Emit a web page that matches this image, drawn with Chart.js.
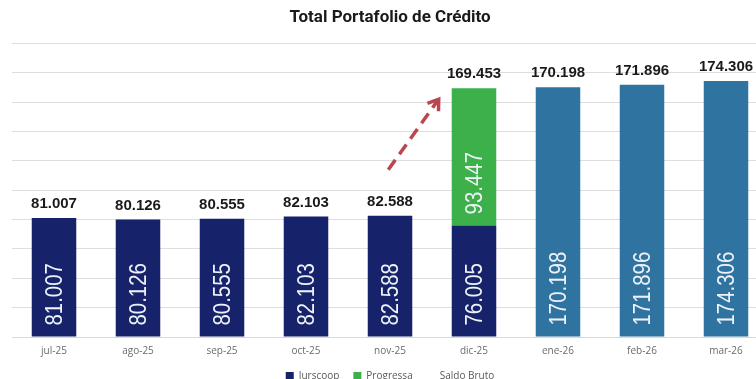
<!DOCTYPE html>
<html>
<head>
<meta charset="utf-8">
<script src="https://cdn.jsdelivr.net/npm/chart.js@4.4.1/dist/chart.umd.min.js"></script>
<style>
  html, body { margin: 0; padding: 0; background: #fff; overflow: hidden; }
  #wrap { position: absolute; left: 0; top: 0; width: 780px; height: 391px; }
</style>
</head>
<body>
<div id="wrap"><canvas id="portafolio"></canvas></div>
<script>
document.addEventListener('DOMContentLoaded', () => {
    // Saldos mensuales (millones)
    const months = ['jul-25', 'ago-25', 'sep-25', 'oct-25', 'nov-25', 'dic-25', 'ene-26', 'feb-26', 'mar-26'];
    const jurscoop = [81.007, 80.126, 80.555, 82.103, 82.588, 76.005, null, null, null];
    const progressa = [null, null, null, null, null, 93.447, null, null, null];
    const consolidado = [null, null, null, null, null, null, 170.198, 171.896, 174.306];
    const saldoBruto = [81.007, 80.126, 80.555, 82.103, 82.588, 169.453, 170.198, 171.896, 174.306];

    // Flecha de crecimiento nov -> dic, en unidades de datos (indice de categoria, valor)
    const arrowFrom = [3.98, 114];
    const arrowTo = [4.58, 162];

    const fmt = v => v.toFixed(3);

    const labelsPlugin = {
        id: 'barLabels',
        afterDatasetsDraw(chart) {
            const ctx = chart.ctx;
            // valores dentro de cada segmento, rotados
            chart.data.datasets.forEach((ds, i) => {
                if (ds.type === 'line') return;
                const meta = chart.getDatasetMeta(i);
                meta.data.forEach((bar, j) => {
                    const v = ds.data[j];
                    if (v == null) return;
                    ctx.save();
                    ctx.translate(bar.x, bar.base - 11);
                    ctx.rotate(-Math.PI / 2);
                    ctx.scale(0.85, 1);
                    ctx.font = '24px "Liberation Sans", Arial, sans-serif';
                    ctx.fillStyle = '#eef2f8';
                    ctx.textAlign = 'left';
                    ctx.textBaseline = 'middle';
                    ctx.fillText(fmt(v), 0, 1);
                    ctx.restore();
                });
            });
            // totales encima de las barras
            chart.data.datasets.forEach((ds, i) => {
                if (ds.type !== 'line') return;
                const meta = chart.getDatasetMeta(i);
                meta.data.forEach((pt, j) => {
                    ctx.save();
                    ctx.font = 'bold 15px "Liberation Sans", Arial, sans-serif';
                    ctx.fillStyle = '#1a1a1a';
                    ctx.textAlign = 'center';
                    ctx.textBaseline = 'middle';
                    ctx.fillText(fmt(ds.data[j]), pt.x, pt.y - 14);
                    ctx.restore();
                });
            });
            // flecha discontinua
            const xs = chart.scales.x, ys = chart.scales.y;
            const x1 = xs.getPixelForValue(arrowFrom[0]), y1 = ys.getPixelForValue(arrowFrom[1]);
            const x2 = xs.getPixelForValue(arrowTo[0]), y2 = ys.getPixelForValue(arrowTo[1]);
            const ang = Math.atan2(y2 - y1, x2 - x1);
            ctx.save();
            ctx.strokeStyle = '#bb4650';
            ctx.lineWidth = 3.5;
            ctx.setLineDash([12, 7]);
            ctx.beginPath();
            ctx.moveTo(x1, y1);
            ctx.lineTo(x2 - 3 * Math.cos(ang), y2 - 3 * Math.sin(ang));
            ctx.stroke();
            ctx.setLineDash([]);
            ctx.lineJoin = 'miter';
            ctx.beginPath();
            ctx.moveTo(x2 - 12 * Math.cos(ang - 0.6), y2 - 12 * Math.sin(ang - 0.6));
            ctx.lineTo(x2, y2);
            ctx.lineTo(x2 - 12 * Math.cos(ang + 0.6), y2 - 12 * Math.sin(ang + 0.6));
            ctx.stroke();
            ctx.restore();
        }
    };

    const barOpts = { stack: 'barras', barPercentage: 0.53, categoryPercentage: 1.0, borderWidth: 0 };

    new Chart(document.getElementById('portafolio'), {
        type: 'bar',
        data: {
            labels: months,
            datasets: [
                { label: 'Jurscoop', data: jurscoop, backgroundColor: '#16226a', ...barOpts },
                { label: 'Progressa', data: progressa, backgroundColor: '#3cb14a', ...barOpts },
                { label: 'Consolidado', data: consolidado, backgroundColor: '#2f73a0', ...barOpts },
                {
                    type: 'line', label: 'Saldo Bruto', data: saldoBruto, stack: 'total',
                    showLine: false, pointRadius: 0, borderColor: 'rgba(0,0,0,0)',
                    backgroundColor: 'rgba(0,0,0,0)'
                }
            ]
        },
        options: {
            responsive: true,
            maintainAspectRatio: false,
            animation: false,
            layout: { padding: { left: 12, right: 12, top: 0, bottom: 0 } },
            plugins: {
                title: {
                    display: true,
                    text: 'Total Portafolio de Crédito',
                    color: '#1a1a1a',
                    font: { family: 'Roboto, "Liberation Sans", sans-serif', size: 17, weight: 'bold' },
                    padding: { top: 8, bottom: 15 }
                },
                legend: {
                    position: 'bottom',
                    labels: {
                        filter: item => item.text !== 'Consolidado',
                        boxWidth: 8, boxHeight: 8,
                        color: '#595959',
                        font: { family: '"Open Sans", sans-serif', size: 10 },
                        padding: 14
                    }
                },
                tooltip: { enabled: false }
            },
            scales: {
                x: {
                    stacked: true,
                    grid: { display: false },
                    border: { color: '#d9d9d9' },
                    ticks: { color: '#6b6b6b', font: { family: '"Open Sans", sans-serif', size: 10 }, padding: 0 }
                },
                y: {
                    stacked: true,
                    min: 0, max: 200,
                    ticks: { stepSize: 20, display: false },
                    grid: { color: '#dedede', drawTicks: false },
                    border: { display: false },
                    afterFit: s => { s.width = 0; }
                }
            }
        },
        plugins: [labelsPlugin]
    });
});
</script>
</body>
</html>
